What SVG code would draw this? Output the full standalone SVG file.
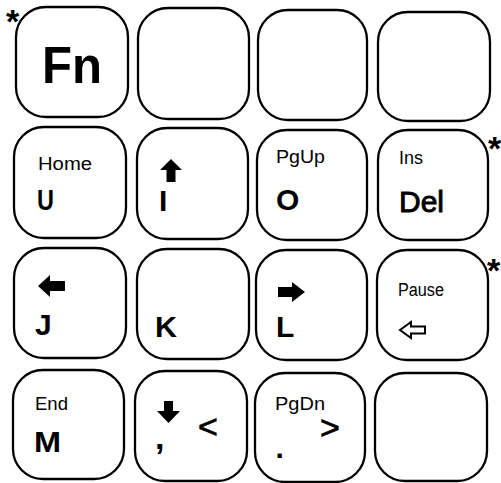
<svg xmlns="http://www.w3.org/2000/svg" width="501" height="483" viewBox="0 0 501 483">
<style>
.key{fill:#fff;stroke:#000;stroke-width:2.3}
.t{font-family:"Liberation Sans",Arial,sans-serif;fill:#000}
.s{font-size:18px}
.b{font-size:30px;font-weight:bold}
.m{font-size:30px;stroke:#000;stroke-width:0.9}
.ar{fill:#000}
.ast{font-family:"Liberation Sans",Arial,sans-serif;font-size:34px;font-weight:bold;fill:#000}
</style>
<rect width="501" height="483" fill="#fff"/>
<g id="key-fn"><rect class="key" x="16" y="7" width="112" height="110" rx="30"/><text class="t" x="42" y="83" font-size="52" font-weight="bold" textLength="60" lengthAdjust="spacingAndGlyphs">Fn</text></g>
<g id="key-r1c2"><rect class="key" x="138" y="8" width="111" height="111" rx="30"/></g>
<g id="key-r1c3"><rect class="key" x="258" y="10" width="109" height="110" rx="30"/></g>
<g id="key-r1c4"><rect class="key" x="378" y="12" width="112" height="109" rx="30"/></g>

<g id="key-u"><rect class="key" x="14" y="127" width="112" height="111" rx="30"/><text class="t s" x="38" y="170" textLength="54" lengthAdjust="spacingAndGlyphs">Home</text><text class="t b" x="37" y="210" textLength="17" lengthAdjust="spacingAndGlyphs">U</text></g>
<g id="key-i"><rect class="key" x="137" y="128" width="111" height="111" rx="30"/><path class="ar" d="M171,159 L182,170 L175.5,170 L175.5,182 L166.5,182 L166.5,170 L160,170 Z"/><text class="t b" x="159" y="211">I</text></g>
<g id="key-o"><rect class="key" x="257" y="130" width="110" height="110" rx="30"/><text class="t s" x="276" y="163" font-size="17" textLength="49" lengthAdjust="spacingAndGlyphs">PgUp</text><text class="t b" x="276" y="210">O</text></g>
<g id="key-del"><rect class="key" x="378" y="130" width="110" height="110" rx="30"/><text class="t s" x="399" y="164" font-size="17" textLength="24" lengthAdjust="spacingAndGlyphs">Ins</text><text class="t m" x="399" y="212" textLength="45" lengthAdjust="spacingAndGlyphs">Del</text></g>

<g id="key-j"><rect class="key" x="14" y="248" width="112" height="110" rx="30"/><path class="ar" d="M38,286 L50,275 L50,281 L65,281 L65,291 L50,291 L50,297 Z"/><text class="t b" x="35" y="335">J</text></g>
<g id="key-k"><rect class="key" x="137" y="249" width="112" height="110" rx="30"/><text class="t b" x="155" y="337" textLength="22" lengthAdjust="spacingAndGlyphs">K</text></g>
<g id="key-l"><rect class="key" x="256" y="250" width="111" height="110" rx="30"/><path class="ar" d="M305,292 L292,282 L292,287 L278,287 L278,297 L292,297 L292,302 Z"/><text class="t b" x="276" y="337">L</text></g>
<g id="key-pause"><rect class="key" x="377" y="250" width="111" height="110" rx="30"/><text class="t s" x="398" y="296" textLength="46" lengthAdjust="spacingAndGlyphs">Pause</text><path d="M400,330 L411,322 L411,326.5 L425,326.5 L425,333.5 L411,333.5 L411,338 Z" fill="none" stroke="#000" stroke-width="2" stroke-linejoin="miter"/></g>

<g id="key-m"><rect class="key" x="13" y="370" width="111" height="109" rx="30"/><text class="t s" x="35" y="410" font-size="17" textLength="33" lengthAdjust="spacingAndGlyphs">End</text><text class="t b" x="34" y="452" textLength="27" lengthAdjust="spacingAndGlyphs">M</text></g>
<g id="key-comma"><rect class="key" x="135" y="371" width="112" height="110" rx="30"/><path class="ar" d="M164,401 L173,401 L173,411 L180,411 L168.5,423 L157,411 L164,411 Z"/><text class="t" x="198" y="438" font-size="34" stroke="#000" stroke-width="0.7">&lt;</text><text class="t" x="155" y="449" font-size="34" font-weight="bold">,</text></g>
<g id="key-period"><rect class="key" x="255" y="373" width="110" height="109" rx="30"/><text class="t s" x="275" y="410" textLength="50" lengthAdjust="spacingAndGlyphs">PgDn</text><text class="t" x="320" y="439" font-size="34" stroke="#000" stroke-width="0.7">&gt;</text><text class="t" x="275.5" y="458" font-size="30" font-weight="bold">.</text></g>
<g id="key-r4c4"><rect class="key" x="375" y="373" width="112" height="108" rx="30"/></g>

<g id="connectors"></g>
<g id="asterisks">
<text class="ast" x="6" y="33">*</text>
<text class="ast" x="488" y="160">*</text>
<text class="ast" x="487" y="282">*</text>
</g>
</svg>
